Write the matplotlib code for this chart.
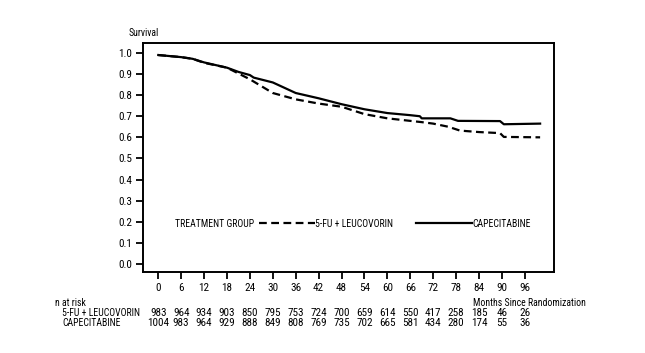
import matplotlib
matplotlib.use("Agg")
from matplotlib import pyplot as plt
from matplotlib.transforms import blended_transform_factory

plt.rcParams['font.family'] = ['Roboto Condensed', 'Liberation Sans', 'DejaVu Sans']
plt.rcParams['font.size'] = 7

# survival curves
cape_months = [0, 6, 9, 12, 18, 21, 24, 25, 30, 36, 42, 48, 54, 60, 66, 68.5, 69, 76.5, 78.5, 89.5, 90.5, 100]
cape_surv = [0.99, 0.98, 0.972, 0.955, 0.93, 0.91, 0.895, 0.883, 0.86, 0.81, 0.785, 0.757, 0.733, 0.715,
             0.705, 0.70, 0.69, 0.69, 0.678, 0.677, 0.662, 0.665]
fu_months = [0, 6, 9, 12, 18, 24, 30, 36, 42, 48, 54, 60, 66, 69, 72, 76, 79, 84, 89.5, 90.5, 100]
fu_surv = [0.99, 0.98, 0.972, 0.953, 0.93, 0.875, 0.81, 0.78, 0.76, 0.745, 0.71, 0.69, 0.678, 0.672,
           0.665, 0.65, 0.632, 0.625, 0.62, 0.602, 0.60]

# n at risk table
risk_months = [0, 6, 12, 18, 24, 30, 36, 42, 48, 54, 60, 66, 72, 78, 84, 90, 96]
risk_fu = [983, 964, 934, 903, 850, 795, 753, 724, 700, 659, 614, 550, 417, 258, 185, 46, 26]
risk_cape = [1004, 983, 964, 929, 888, 849, 808, 769, 735, 702, 665, 581, 434, 280, 174, 55, 36]

fig = plt.figure(figsize=(6.45, 3.53), dpi=100)
ax = fig.add_axes([0.2217, 0.2295, 0.637, 0.6487])

ax.plot(fu_months, fu_surv, color='black', lw=1.6, ls=(0, (3.5, 2)), label='5-FU + LEUCOVORIN')
ax.plot(cape_months, cape_surv, color='black', lw=1.6, label='CAPECITABINE')

ax.set_xlim(-4, 103.6)
ax.set_ylim(-0.038, 1.047)
ax.set_xticks(risk_months)
ax.set_yticks([i / 10 for i in range(11)])
ax.set_yticklabels(['%.1f' % (i / 10) for i in range(11)])
ax.tick_params(direction='out', length=5, width=1.3, pad=3, labelsize=8)
for s in ax.spines.values():
    s.set_linewidth(1.4)

# legend row inside the axes
ax.text(0.078, 0.21, 'TREATMENT GROUP', transform=ax.transAxes, va='center', ha='left')
ax.legend(loc='center left', bbox_to_anchor=(0.282, 0.21), ncol=2, frameon=False,
          handlelength=5.8, handletextpad=0.0, columnspacing=2.35, borderpad=0, borderaxespad=0,
          fontsize=7)

fig.text(0.2, 0.907, 'Survival', ha='left', va='center')

# number at risk below the axis
tr = blended_transform_factory(ax.transData, fig.transFigure)
fig.text(0.085, 0.142, 'n at risk', ha='left', va='center')
fig.text(0.096, 0.113, '5-FU + LEUCOVORIN', ha='left', va='center')
fig.text(0.096, 0.085, 'CAPECITABINE', ha='left', va='center')
for m, a, b in zip(risk_months, risk_fu, risk_cape):
    ax.text(m, 0.113, str(a), transform=tr, ha='center', va='center', fontsize=8)
    ax.text(m, 0.085, str(b), transform=tr, ha='center', va='center', fontsize=8)
fig.text(0.733, 0.142, 'Months Since Randomization', ha='left', va='center')

fig.savefig('out.png', dpi=100)
